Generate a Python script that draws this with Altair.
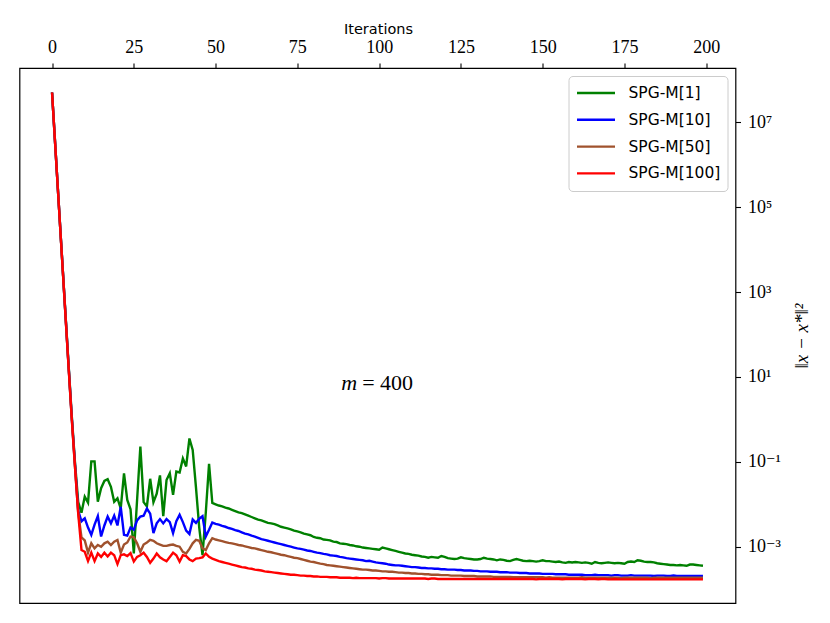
import altair as alt
import pandas as pd

iterations = list(range(200))
series_names = ["SPG-M[1]", "SPG-M[10]", "SPG-M[50]", "SPG-M[100]"]
series_colors = ["#008000", "#0000ff", "#a0522d", "#ff0000"]
x_ticks = [0, 25, 50, 75, 100, 125, 150, 175, 200]
y_tick_exps = [-3, -1, 1, 3, 5, 7]
y_tick_labels = ["10⁻³", "10⁻¹", "10¹", "10³", "10⁵", "10⁷"]

# log10 of ||x - x*||^2, one value per iteration 0..199
green_log = [
    7.70, 6.43, 5.15, 3.88, 2.62, 1.36, 0.12, -1.00, -1.95, -2.20,
    -1.82, -1.96, -0.99, -0.99, -1.94, -1.62, -1.45, -1.41, -1.59, -1.94,
    -1.86, -2.10, -1.27, -1.90, -2.12, -3.16, -1.90, -0.64, -1.95, -2.05,
    -1.40, -1.95, -1.75, -1.32, -2.28, -1.43, -1.27, -1.78, -1.23, -1.25,
    -0.92, -1.11, -0.45, -0.72, -1.60, -2.55, -3.20, -2.20, -1.05, -1.97,
    -2.00, -2.03, -2.05, -2.08, -2.10, -2.13, -2.16, -2.19, -2.21, -2.24,
    -2.27, -2.30, -2.33, -2.36, -2.38, -2.41, -2.44, -2.45, -2.47, -2.50,
    -2.53, -2.55, -2.57, -2.59, -2.62, -2.64, -2.66, -2.69, -2.71, -2.73,
    -2.77, -2.79, -2.80, -2.83, -2.84, -2.85, -2.88, -2.89, -2.92, -2.93,
    -2.94, -2.96, -2.97, -2.99, -3.00, -3.02, -3.03, -3.04, -3.05, -3.06,
    -3.07, -3.02, -3.04, -3.06, -3.08, -3.10, -3.12, -3.14, -3.16, -3.17,
    -3.19, -3.20, -3.21, -3.23, -3.24, -3.26, -3.24, -3.25, -3.26, -3.22,
    -3.24, -3.27, -3.28, -3.29, -3.28, -3.25, -3.27, -3.28, -3.29, -3.30,
    -3.30, -3.29, -3.26, -3.28, -3.29, -3.30, -3.32, -3.30, -3.31, -3.33,
    -3.34, -3.31, -3.29, -3.31, -3.33, -3.34, -3.33, -3.34, -3.35, -3.34,
    -3.32, -3.34, -3.34, -3.35, -3.36, -3.35, -3.37, -3.38, -3.36, -3.37,
    -3.36, -3.37, -3.38, -3.37, -3.38, -3.40, -3.36, -3.38, -3.39, -3.38,
    -3.37, -3.38, -3.39, -3.38, -3.39, -3.40, -3.36, -3.35, -3.36, -3.32,
    -3.33, -3.35, -3.36, -3.36, -3.37, -3.39, -3.40, -3.41, -3.42, -3.43,
    -3.43, -3.44, -3.43, -3.44, -3.45, -3.42, -3.42, -3.43, -3.44, -3.45,
]
blue_log = [
    7.70, 6.43, 5.15, 3.88, 2.60, 1.33, 0.08, -1.05, -2.15, -2.40,
    -2.33, -2.55, -2.72, -2.48, -2.28, -2.76, -2.50, -2.29, -2.45, -2.27,
    -2.50, -2.06, -2.72, -2.74, -2.55, -2.60, -2.38, -2.29, -2.27, -2.10,
    -2.22, -2.68, -2.45, -2.35, -2.45, -2.35, -2.42, -2.68, -2.40, -2.25,
    -2.42, -2.62, -2.70, -2.36, -2.44, -2.34, -2.28, -2.76, -2.60, -2.43,
    -2.46, -2.48, -2.51, -2.53, -2.56, -2.58, -2.61, -2.63, -2.66, -2.69,
    -2.71, -2.74, -2.76, -2.79, -2.82, -2.84, -2.86, -2.88, -2.90, -2.92,
    -2.94, -2.96, -2.98, -3.00, -3.02, -3.04, -3.05, -3.07, -3.09, -3.10,
    -3.12, -3.14, -3.15, -3.17, -3.18, -3.20, -3.21, -3.22, -3.24, -3.25,
    -3.27, -3.28, -3.29, -3.30, -3.31, -3.32, -3.34, -3.33, -3.35, -3.37,
    -3.38, -3.39, -3.40, -3.42, -3.43, -3.44, -3.44, -3.45, -3.46, -3.47,
    -3.48, -3.48, -3.49, -3.50, -3.50, -3.51, -3.51, -3.52, -3.52, -3.53,
    -3.53, -3.54, -3.54, -3.54, -3.55, -3.55, -3.56, -3.56, -3.56, -3.57,
    -3.57, -3.58, -3.58, -3.58, -3.59, -3.59, -3.59, -3.60, -3.60, -3.60,
    -3.61, -3.61, -3.61, -3.62, -3.62, -3.62, -3.63, -3.63, -3.63, -3.63,
    -3.64, -3.64, -3.64, -3.64, -3.65, -3.65, -3.65, -3.65, -3.66, -3.66,
    -3.66, -3.66, -3.66, -3.67, -3.67, -3.67, -3.66, -3.67, -3.67, -3.67,
    -3.67, -3.68, -3.67, -3.67, -3.68, -3.68, -3.68, -3.67, -3.68, -3.68,
    -3.68, -3.68, -3.68, -3.68, -3.69, -3.68, -3.68, -3.68, -3.69, -3.69,
    -3.68, -3.69, -3.69, -3.69, -3.69, -3.69, -3.69, -3.69, -3.69, -3.69,
]
brown_log = [
    7.70, 6.43, 5.15, 3.87, 2.59, 1.31, 0.05, -1.10, -2.20, -2.78,
    -2.85, -3.14, -2.92, -3.04, -2.96, -3.00, -2.92, -2.88, -2.96, -2.88,
    -2.84, -3.14, -2.95, -2.90, -2.76, -2.78, -2.92, -3.12, -2.95, -2.90,
    -2.84, -2.86, -2.92, -2.95, -2.98, -2.98, -2.96, -2.95, -2.98, -3.00,
    -3.12, -3.16, -3.05, -2.92, -2.84, -2.86, -3.04, -3.08, -2.92, -2.80,
    -2.83, -2.85, -2.87, -2.89, -2.91, -2.92, -2.94, -2.96, -2.97, -2.99,
    -3.01, -3.03, -3.04, -3.06, -3.08, -3.10, -3.12, -3.13, -3.15, -3.17,
    -3.19, -3.20, -3.22, -3.24, -3.26, -3.27, -3.29, -3.31, -3.33, -3.35,
    -3.36, -3.38, -3.40, -3.41, -3.43, -3.44, -3.45, -3.46, -3.47, -3.48,
    -3.49, -3.50, -3.51, -3.52, -3.53, -3.54, -3.54, -3.55, -3.56, -3.56,
    -3.57, -3.58, -3.58, -3.59, -3.59, -3.60, -3.61, -3.61, -3.62, -3.62,
    -3.63, -3.63, -3.64, -3.64, -3.65, -3.65, -3.66, -3.66, -3.66, -3.67,
    -3.67, -3.67, -3.68, -3.68, -3.68, -3.68, -3.69, -3.69, -3.69, -3.69,
    -3.70, -3.70, -3.70, -3.70, -3.70, -3.71, -3.71, -3.71, -3.71, -3.71,
    -3.71, -3.72, -3.72, -3.72, -3.72, -3.72, -3.72, -3.72, -3.72, -3.72,
    -3.72, -3.73, -3.72, -3.73, -3.73, -3.73, -3.73, -3.73, -3.73, -3.73,
    -3.73, -3.73, -3.72, -3.73, -3.73, -3.73, -3.73, -3.73, -3.73, -3.73,
    -3.73, -3.73, -3.73, -3.73, -3.74, -3.73, -3.73, -3.73, -3.73, -3.73,
    -3.73, -3.73, -3.73, -3.74, -3.73, -3.73, -3.73, -3.73, -3.73, -3.73,
    -3.73, -3.73, -3.73, -3.73, -3.73, -3.73, -3.73, -3.73, -3.73, -3.73,
]
red_log = [
    7.70, 6.42, 5.14, 3.86, 2.58, 1.30, 0.05, -1.10, -2.22, -3.08,
    -3.12, -3.34, -3.14, -3.34, -3.16, -3.24, -3.14, -3.23, -3.14, -3.20,
    -3.41, -3.20, -3.18, -3.22, -3.15, -3.35, -3.24, -3.20, -3.14, -3.24,
    -3.38, -3.28, -3.16, -3.25, -3.30, -3.34, -3.24, -3.14, -3.20, -3.35,
    -3.20, -3.22, -3.30, -3.34, -3.28, -3.27, -3.25, -3.16, -3.24, -3.28,
    -3.31, -3.34, -3.36, -3.38, -3.40, -3.42, -3.44, -3.46, -3.48, -3.49,
    -3.51, -3.52, -3.54, -3.55, -3.56, -3.58, -3.59, -3.60, -3.61, -3.62,
    -3.63, -3.64, -3.65, -3.66, -3.66, -3.67, -3.68, -3.68, -3.69, -3.69,
    -3.70, -3.70, -3.71, -3.71, -3.71, -3.72, -3.72, -3.72, -3.73, -3.73,
    -3.73, -3.73, -3.74, -3.73, -3.74, -3.74, -3.74, -3.74, -3.74, -3.74,
    -3.75, -3.74, -3.74, -3.75, -3.75, -3.75, -3.75, -3.75, -3.75, -3.75,
    -3.75, -3.75, -3.75, -3.75, -3.75, -3.76, -3.75, -3.75, -3.76, -3.76,
    -3.76, -3.76, -3.76, -3.76, -3.76, -3.76, -3.76, -3.76, -3.76, -3.76,
    -3.76, -3.76, -3.76, -3.76, -3.76, -3.76, -3.76, -3.76, -3.76, -3.76,
    -3.76, -3.76, -3.76, -3.76, -3.76, -3.76, -3.76, -3.76, -3.77, -3.76,
    -3.76, -3.76, -3.76, -3.76, -3.76, -3.76, -3.77, -3.76, -3.76, -3.76,
    -3.76, -3.76, -3.76, -3.77, -3.76, -3.76, -3.76, -3.77, -3.76, -3.76,
    -3.77, -3.77, -3.76, -3.77, -3.77, -3.77, -3.77, -3.77, -3.77, -3.77,
    -3.77, -3.77, -3.77, -3.77, -3.77, -3.77, -3.77, -3.77, -3.77, -3.77,
    -3.77, -3.77, -3.77, -3.77, -3.77, -3.77, -3.77, -3.77, -3.77, -3.77,
]

annotation_x = [100]
annotation_y = [10.0]

rows = []
for name, logs in zip(series_names, [green_log, blue_log, brown_log, red_log]):
    for i, v in zip(iterations, logs):
        rows.append({"iter": i, "value": 10 ** v, "series": name})
df = pd.DataFrame(rows)
ann = pd.DataFrame({"iter": annotation_x, "value": annotation_y})

label_expr = "".join(
    f"round(log(datum.value)/LN10) == {e} ? '{lab}' : "
    for e, lab in zip(y_tick_exps, y_tick_labels)
) + "''"

SERIF = "Liberation Serif, DejaVu Serif, serif"
SANS = "DejaVu Sans, sans-serif"

x_enc = alt.X(
    "iter:Q",
    scale=alt.Scale(domain=[-9.95, 208.95], nice=False, zero=False),
    axis=alt.Axis(
        orient="top", values=x_ticks, title="Iterations", grid=False, domain=False,
        tickSize=5, tickColor="black", tickWidth=1.1,
        labelFont=SERIF, labelFontSize=18, labelColor="black",
        labelPadding=11, labelBaseline="alphabetic", labelFlush=False,
        titleFont=SANS, titleFontSize=14.5, titleFontWeight="normal",
        titleColor="black", titleBaseline="alphabetic", titleX=358.5, titleY=-35,
    ),
)
y_enc = alt.Y(
    "value:Q",
    scale=alt.Scale(type="log", domain=[10 ** -4.326, 10 ** 8.277], nice=False),
    axis=alt.Axis(
        orient="right", values=[10.0 ** e for e in y_tick_exps], labelExpr=label_expr,
        grid=False, domain=False, tickSize=5, tickColor="black", tickWidth=1.1,
        labelFont=SERIF, labelFontSize=18, labelColor="black", labelPadding=7,
        labelBaseline="middle", labelAlign="left", labelFlush=False,
        title="‖x − x*‖²", titleFont=SERIF, titleFontStyle="italic",
        titleFontSize=19, titleFontWeight="normal", titleColor="black",
        titleAngle=270, titleX=66, titleY=267.5, titleAlign="center",
        titleBaseline="middle",
    ),
)
color_enc = alt.Color(
    "series:N",
    scale=alt.Scale(domain=series_names, range=series_colors),
    legend=alt.Legend(
        title=None, orient="top-right", offset=8, padding=7,
        fillColor="white", strokeColor="#cccccc", cornerRadius=4,
        symbolType="stroke", symbolSize=1444, symbolStrokeWidth=2.4,
        labelFont=SANS, labelFontSize=15.5, labelColor="black", labelOffset=12,
        rowPadding=6.8, clipHeight=20, labelLimit=250,
    ),
)

base = alt.Chart(df)
lines = [
    base.transform_filter(alt.datum.series == name)
    .mark_line(strokeWidth=2.4, clip=True)
    .encode(x=x_enc, y=y_enc, color=color_enc)
    for name in series_names
]

m_text = alt.Chart(ann).mark_text(
    text="m", font=SERIF, fontStyle="italic", fontSize=22, align="right",
    baseline="alphabetic", dx=-22, dy=13, color="black",
).encode(x=x_enc, y=y_enc)
eq_text = alt.Chart(ann).mark_text(
    text="= 400", font=SERIF, fontSize=22, align="left",
    baseline="alphabetic", dx=-17, dy=13, color="black",
).encode(x=x_enc, y=y_enc)

chart = alt.layer(*lines, m_text, eq_text).properties(
    width=716, height=535,
    padding={"left": 11.5, "top": 60, "right": 80, "bottom": 12},
    autosize=alt.AutoSizeParams(type="none"),
).configure(background="white").configure_view(stroke="black", strokeWidth=1.2)

chart.save("out.html", embed_options={"renderer": "svg", "actions": False})
